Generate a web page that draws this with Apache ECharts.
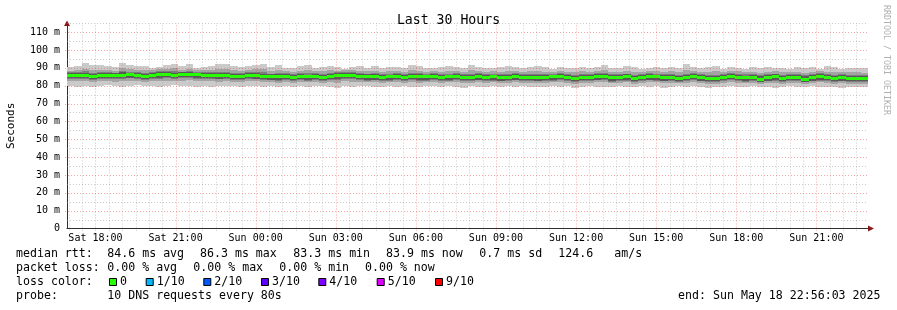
<!DOCTYPE html>
<html><head><meta charset="utf-8">
<script src="https://cdn.jsdelivr.net/npm/echarts@6/dist/echarts.min.js"></script>
<style>html,body{margin:0;padding:0;background:#fff}#c{width:897px;height:310px}</style>
</head><body><div id="c"></div>
<script>
// time in seconds since Sat 00:00
const START = 60963;          // Sat 16:56:03
const END = 168963;           // Sun 22:56:03
const STEP = 1000;

const median = [
85.6,85.9,85.8,85.1,85.6,85.8,85.7,85.9,86.0,85.8,
85.4,85.9,86.0,86.1,85.9,86.2,86.3,86.1,85.7,85.8,
85.5,85.6,85.4,85.3,85.7,85.5,85.2,85.0,84.9,85.1,
84.6,85.0,84.9,85.3,84.7,85.1,85.6,85.9,85.8,85.2,
84.9,85.0,84.6,84.9,85.1,84.8,85.4,85.0,84.9,85.2,
84.7,84.9,85.3,84.8,84.6,85.0,84.8,84.9,84.5,84.8,
85.0,84.6,84.8,84.4,84.7,84.9,85.1,84.6,84.3,84.8,
84.6,85.0,85.4,84.4,84.7,84.9,84.2,84.6,85.0,84.9,
84.5,84.8,84.3,84.6,85.2,84.5,84.0,84.2,84.7,85.3,
84.8,84.4,84.6,83.6,84.5,84.9,84.3,84.7,84.6,83.3,
84.5,85.0,84.6,84.1,84.4,84.3,84.2,83.9];
const ping10 = [
90.5,91.0,92.8,91.5,91.6,90.9,90.4,92.9,91.8,91.2,
91.3,90.1,90.7,91.5,92.4,90.8,91.9,89.9,90.2,91.1,
92.3,92.1,91.2,90.6,90.8,91.7,92.0,90.3,91.4,89.8,
90.0,90.9,91.5,89.7,90.6,91.0,90.2,89.6,90.7,90.9,
90.1,91.2,89.8,90.5,90.6,89.9,91.6,90.8,90.1,89.7,
90.4,91.3,90.2,90.0,91.8,90.6,90.0,89.9,90.3,91.0,
90.6,89.8,90.5,91.1,90.2,89.6,90.4,90.0,89.8,90.7,
89.9,90.3,91.5,90.1,89.7,90.9,90.2,89.5,90.1,90.4,
89.8,90.6,89.7,92.0,90.5,89.9,90.2,90.8,89.6,90.3,
90.0,89.5,90.4,89.9,90.6,89.7,90.1,89.4,90.7,89.8,
90.2,89.6,91.0,90.3,89.5,90.1,89.7,89.9];
const ping1 = [
79.8,79.5,80.1,79.2,79.9,80.2,79.6,79.4,80.0,80.3,
79.6,80.1,79.4,79.8,80.2,79.7,80.0,79.3,79.9,79.5,
80.1,79.6,79.9,79.4,79.7,80.0,79.3,79.8,79.1,79.6,
79.4,79.9,79.2,79.7,80.1,79.5,78.8,79.8,79.3,79.6,
79.9,79.4,79.0,79.7,79.2,79.8,79.5,79.1,79.6,80.0,
79.3,79.7,79.4,78.9,79.8,79.5,79.2,79.6,79.0,79.7,
79.4,79.9,79.2,79.5,79.1,79.8,79.3,79.6,78.9,79.4,
79.7,79.2,79.5,79.0,79.8,79.4,79.1,79.6,79.3,79.7,
78.9,79.4,79.6,79.1,79.7,79.3,78.8,79.5,79.2,79.8,
79.4,79.0,79.6,79.2,79.5,78.9,79.3,79.7,79.1,79.4,
79.6,79.0,79.5,79.2,78.8,79.4,79.3,79.1];
const ping9 = [
88.4,88.9,89.6,88.7,88.9,89.0,88.5,89.8,89.2,88.8,
88.6,88.8,89.3,89.5,89.8,88.9,89.6,88.7,88.6,89.0,
89.4,89.2,88.8,88.3,88.9,89.1,89.3,88.2,88.6,88.1,
87.9,88.3,88.7,88.0,88.2,88.6,88.4,88.9,88.7,88.5,
88.0,88.4,87.8,88.2,88.5,87.9,88.8,88.3,87.9,88.1,
87.8,88.5,88.3,87.9,88.6,88.2,87.8,88.0,87.7,88.4,
88.1,87.7,88.2,88.3,87.9,87.8,88.4,87.9,87.5,88.2,
87.8,88.3,88.7,87.6,87.9,88.4,87.5,87.8,88.2,88.0,
87.6,88.1,87.5,88.6,88.3,87.7,87.4,88.0,87.8,88.5,
88.0,87.6,87.9,87.3,87.8,88.1,87.5,87.9,87.8,87.2,
87.7,88.2,87.9,87.4,87.5,87.6,87.4,87.3];
const ping2 = [
82.4,82.7,82.5,82.0,82.6,82.8,82.3,82.6,82.9,82.5,
82.2,82.8,82.6,82.9,82.7,82.8,83.0,82.5,82.4,82.6,
82.3,82.5,82.1,82.0,82.6,82.4,82.0,81.9,81.6,82.0,
81.7,82.1,81.8,82.2,81.6,82.0,81.5,82.4,82.3,81.9,
81.8,81.9,81.4,81.8,81.9,81.6,82.2,81.7,81.8,82.1,
81.6,81.8,82.0,81.5,81.6,81.9,81.6,81.8,81.3,81.7,
81.9,81.5,81.7,81.4,81.5,81.8,81.9,81.6,81.2,81.7,
81.5,81.8,82.1,81.3,81.7,81.8,81.2,81.5,81.9,81.8,
81.3,81.7,81.4,81.3,82.0,81.5,81.0,81.2,81.6,82.0,
81.7,81.3,81.6,80.9,81.4,81.6,81.2,81.6,81.5,80.8,
81.4,81.8,81.5,81.0,81.3,81.2,81.1,80.9];
const ping8 = [
87.4,87.8,88.0,87.2,87.6,87.7,87.3,88.1,87.9,87.7,
87.3,87.6,88.0,88.2,88.1,87.9,88.3,87.8,87.5,87.7,
87.6,87.8,87.3,87.1,87.5,87.6,87.4,86.8,86.9,87.0,
86.5,86.9,87.0,87.2,86.6,87.1,87.5,87.7,87.6,87.0,
86.8,86.9,86.4,86.8,87.0,86.7,87.3,86.9,86.7,87.0,
86.6,86.8,87.2,86.7,86.6,86.9,86.6,86.8,86.3,86.7,
86.9,86.5,86.7,86.4,86.6,86.7,87.0,86.5,86.2,86.7,
86.5,86.9,87.3,86.3,86.6,86.8,86.1,86.5,86.9,86.8,
86.4,86.7,86.2,86.6,87.1,86.4,85.9,86.1,86.6,87.2,
86.7,86.3,86.5,85.8,86.4,86.8,86.2,86.6,86.5,85.9,
86.4,86.9,86.5,86.0,86.3,86.2,86.1,85.8];
const ping3 = [
83.6,83.9,83.7,83.2,83.8,83.9,83.6,83.8,84.1,83.7,
83.4,84.0,83.9,84.1,83.9,84.2,84.3,83.9,83.6,83.8,
83.5,83.7,83.3,83.2,83.8,83.5,83.1,83.0,82.8,83.1,
82.7,83.1,82.9,83.3,82.6,83.0,83.2,83.8,83.7,83.1,
82.9,83.0,82.5,82.9,83.1,82.7,83.4,82.9,82.9,83.2,
82.6,82.9,83.3,82.7,82.5,83.0,82.7,82.9,82.4,82.8,
83.0,82.6,82.8,82.4,82.6,82.9,83.1,82.6,82.2,82.8,
82.6,83.0,83.3,82.3,82.7,82.9,82.1,82.6,83.0,82.9,
82.4,82.8,82.3,82.4,83.1,82.5,81.9,82.2,82.7,83.2,
82.8,82.3,82.6,81.8,82.5,82.9,82.3,82.7,82.6,81.9,
82.4,82.9,82.6,82.0,82.4,82.3,82.1,81.9];
const ping7 = [
86.9,87.3,87.2,86.6,86.9,87.1,86.9,87.4,87.3,87.0,
86.8,87.1,87.4,87.5,87.3,87.6,87.7,87.3,86.9,87.1,
87.0,87.0,86.7,86.6,87.0,86.9,86.6,86.3,86.3,86.5,
86.0,86.4,86.2,86.6,86.1,86.5,86.9,87.2,87.0,86.5,
86.3,86.3,86.0,86.2,86.5,86.1,86.8,86.3,86.2,86.5,
86.1,86.2,86.6,86.2,86.0,86.3,86.1,86.2,85.9,86.1,
86.3,86.0,86.1,85.8,86.1,86.2,86.5,85.9,85.7,86.1,
86.0,86.3,86.7,85.8,86.0,86.3,85.6,85.9,86.4,86.2,
85.9,86.1,85.7,85.9,86.5,85.9,85.4,85.6,86.0,86.6,
86.2,85.7,86.0,85.3,85.8,86.3,85.6,86.1,85.9,85.4,
85.9,86.3,86.0,85.5,85.8,85.6,85.6,85.3];
const ping4 = [
84.1,84.4,84.3,83.6,84.2,84.3,84.1,84.3,84.5,84.2,
83.9,84.4,84.5,84.6,84.4,84.7,84.8,84.5,84.1,84.3,
84.0,84.1,83.8,83.7,84.2,83.9,83.6,83.4,83.3,83.5,
83.1,83.5,83.3,83.7,83.1,83.5,84.0,84.3,84.2,83.6,
83.3,83.4,83.0,83.3,83.5,83.2,83.8,83.4,83.3,83.6,
83.1,83.3,83.7,83.2,83.0,83.4,83.2,83.3,82.9,83.2,
83.4,83.0,83.2,82.8,83.1,83.3,83.5,83.0,82.7,83.2,
83.0,83.4,83.8,82.8,83.1,83.3,82.6,83.0,83.4,83.3,
82.9,83.2,82.7,83.0,83.6,82.9,82.4,82.6,83.1,83.7,
83.2,82.8,83.0,82.3,82.9,83.3,82.7,83.1,83.0,82.0,
82.9,83.4,83.0,82.5,82.8,82.7,82.6,82.4];
const ping5 = [
85.0,85.3,85.2,84.5,85.0,85.2,85.0,85.2,85.4,85.1,
84.8,85.2,85.4,85.5,85.3,85.6,85.7,85.4,85.0,85.2,
84.9,85.0,84.7,84.6,85.0,84.8,84.5,84.3,84.2,84.4,
84.0,84.4,84.2,84.6,84.0,84.4,84.9,85.2,85.1,84.5,
84.2,84.3,83.9,84.2,84.4,84.1,84.7,84.3,84.2,84.5,
84.0,84.2,84.6,84.1,83.9,84.3,84.1,84.2,83.8,84.1,
84.3,83.9,84.1,83.7,84.0,84.2,84.4,83.9,83.6,84.1,
83.9,84.3,84.7,83.7,84.0,84.2,83.5,83.9,84.3,84.2,
83.8,84.1,83.6,83.9,84.5,83.8,83.3,83.5,84.0,84.6,
84.1,83.7,83.9,83.0,83.8,84.2,83.6,84.0,83.9,82.7,
83.8,84.3,83.9,83.4,83.7,83.6,83.5,83.2];
const ping6 = [
85.9,86.2,86.1,85.4,85.9,86.1,86.0,86.2,86.3,86.1,
85.7,86.2,86.3,86.4,86.2,86.5,86.6,86.4,86.0,86.1,
85.8,85.9,85.7,85.6,86.0,85.8,85.5,85.3,85.2,85.4,
84.9,85.3,85.2,85.6,85.0,85.4,85.9,86.2,86.1,85.5,
85.2,85.3,84.9,85.2,85.4,85.1,85.7,85.3,85.2,85.5,
85.0,85.2,85.6,85.1,84.9,85.3,85.1,85.2,84.8,85.1,
85.3,84.9,85.1,84.7,85.0,85.2,85.4,84.9,84.6,85.1,
84.9,85.3,85.7,84.7,85.0,85.2,84.5,84.9,85.3,85.2,
84.8,85.1,84.6,84.9,85.5,84.8,84.3,84.5,85.0,85.6,
85.1,84.7,84.9,84.0,84.8,85.2,84.6,85.0,84.9,83.7,
84.8,85.3,84.9,84.4,84.7,84.6,84.5,84.2];

const tickTimes  = [64800, 75600, 86400, 97200, 108000, 118800, 129600, 140400, 151200, 162000];
const tickLabels = ['Sat 18:00','Sat 21:00','Sun 00:00','Sun 03:00','Sun 06:00','Sun 09:00','Sun 12:00','Sun 15:00','Sun 18:00','Sun 21:00'];
const YMAX = 115;

const lossNames  = ['0','1/10','2/10','3/10','4/10','5/10','9/10'];
const lossColors = ['#26ff00','#00b8ff','#0059ff','#5e00ff','#7e00ff','#dd00ff','#ff0000'];

const legendLine1 = ['median rtt:','84.6 ms avg','86.3 ms max','83.3 ms min','83.9 ms now','0.7 ms sd','124.6','am/s'];
const legendLine2 = ['packet loss:','0.00 % avg','0.00 % max','0.00 % min','0.00 % now'];
const probeText = ['probe:','10 DNS requests every 80s'];
const endText = 'end: Sun May 18 22:56:03 2025';

// ---- build rows
const rows = median.map((m, i) => {
  const t0 = START + i * STEP;
  return [t0, t0 + STEP, ping1[i], ping2[i], ping3[i], ping4[i], ping5[i], ping6[i], ping7[i], ping8[i], ping9[i], ping10[i], m];
});
// grid lines: minor every 30 min, major every 3h (ticks)
const vGrid = [];
for (let t = Math.ceil(START / 1800) * 1800; t < END; t += 1800) {
  vGrid.push([t, tickTimes.indexOf(t) >= 0 ? 1 : 0]);
}
const hGrid = [];
for (let v = 5; v <= YMAX; v += 5) hGrid.push([v, v % 10 === 0 ? 1 : 0]);

const MONO = '"DejaVu Sans Mono", monospace';
const chart = echarts.init(document.getElementById('c'), null, {renderer: 'canvas'});

const bandColors = ['#cacaca', '#a4a4a4', '#7e7e7e', '#585858', '#323232'];
const MAJOR = 'rgba(240,64,64,0.45)';
const MINOR = 'rgba(143,143,143,0.45)';

const graphics = [];
const FS = 11.6;
function txt(x, y, s, align) {
  graphics.push({type: 'text', x: x, y: y, silent: true,
    style: {text: s, font: FS + 'px ' + MONO, fill: '#000', align: align || 'left', verticalAlign: 'middle'}});
}
const l1x = [16, 107.3, 200, 293.3, 386, 479.3, 558.3, 614.3];
legendLine1.forEach((s, i) => txt(l1x[i], 254.3, s));
const l2x = [16, 107.3, 193.3, 279.3, 365];
legendLine2.forEach((s, i) => txt(l2x[i], 268.3, s));
txt(16, 282.3, 'loss color:');
const sqx = [109, 145.7, 203.3, 261, 318.3, 376.7, 435];
lossNames.forEach((s, i) => {
  graphics.push({type: 'rect', silent: true, shape: {x: sqx[i] + 0.5, y: 278.5, width: 7, height: 7},
    style: {fill: lossColors[i], stroke: '#000', lineWidth: 1}});
  txt(sqx[i] + 11, 282.3, s);
});
txt(16, 296, probeText[0]);
txt(107.3, 296, probeText[1]);
txt(880.5, 296, endText, 'right');
// watermark
graphics.push({type: 'text', x: 886, y: 5, rotation: -Math.PI / 2, silent: true,
  style: {text: 'RRDTOOL / TOBI OETIKER', font: '8.3px ' + MONO, fill: '#b0b0b0', align: 'left', verticalAlign: 'middle'}});
// arrows
graphics.push({type: 'polygon', silent: true, shape: {points: [[64, 26], [67, 20.5], [70, 26]]}, style: {fill: '#8b1a1a'}});
graphics.push({type: 'polygon', silent: true, shape: {points: [[868, 225.5], [874, 228.5], [868, 231.5]]}, style: {fill: '#8b1a1a'}});

chart.setOption({
  backgroundColor: '#ffffff',
  animation: false,
  title: {text: 'Last 30 Hours', left: 'center', top: 9,
    textStyle: {fontFamily: MONO, fontSize: 13.2, fontWeight: 'normal', color: '#000'}},
  grid: {left: 67, top: 23.2, width: 801, height: 205.3, containLabel: false, outerBoundsMode: 'none'},
  xAxis: {
    type: 'value', min: START, max: END,
    axisLine: {show: true, lineStyle: {color: '#303030', width: 1}},
    axisTick: {show: false},
    splitLine: {show: false},
    axisLabel: {
      customValues: tickTimes,
      margin: 5,
      fontFamily: MONO, fontSize: 10, color: '#000',
      formatter: v => { const k = tickTimes.indexOf(v); return k >= 0 ? tickLabels[k] : ''; }
    }
  },
  yAxis: {
    type: 'value', min: 0, max: YMAX, interval: 5,
    name: 'Seconds', nameLocation: 'middle', nameGap: 50, nameRotate: 90,
    nameTextStyle: {fontFamily: MONO, fontSize: 11, color: '#000'},
    axisLine: {show: true, lineStyle: {color: '#303030', width: 1}},
    axisTick: {show: false},
    splitLine: {show: false},
    axisLabel: {
      margin: 7, fontFamily: MONO, fontSize: 10, color: '#000',
      formatter: v => (v % 10 !== 0 || v > 110) ? '' : (v === 0 ? '0' : v + ' m')
    }
  },
  series: [
    {
      type: 'custom', z: 2, clip: true,
      data: rows,
      encode: {x: [0, 1], y: [2, 11]},
      renderItem: (params, api) => {
        const xa = Math.round(api.coord([api.value(0), 0])[0]);
        const xb = Math.round(api.coord([api.value(1), 0])[0]);
        const children = [];
        for (let b = 0; b < 5; b++) {
          const ylo = Math.round(api.coord([0, api.value(2 + b)])[1]);
          const yhi = Math.round(api.coord([0, api.value(11 - b)])[1]);
          children.push({type: 'rect', shape: {x: xa, y: yhi, width: xb - xa, height: Math.max(1, ylo - yhi)},
            style: {fill: bandColors[b]}});
        }
        const ym = api.coord([0, api.value(12)])[1];
        children.push({type: 'rect', shape: {x: xa, y: Math.round(ym - 1.5), width: xb - xa, height: 3},
          style: {fill: lossColors[0]}});
        return {type: 'group', children: children};
      }
    },
    {
      type: 'custom', z: 3, silent: true,
      data: vGrid,
      encode: {x: 0},
      renderItem: (params, api) => {
        const x = Math.round(api.coord([api.value(0), 0])[0]) + 0.5;
        const y0 = api.coord([START, 0])[1];
        const y1 = api.coord([START, YMAX])[1];
        const major = api.value(1) === 1;
        return {type: 'line', shape: {x1: x, y1: y0 + 2, x2: x, y2: y1},
          style: {stroke: major ? MAJOR : MINOR, lineWidth: 1, lineDash: [1, 2]}};
      }
    },
    {
      type: 'custom', z: 3, silent: true,
      data: hGrid,
      encode: {y: 0},
      renderItem: (params, api) => {
        const y = Math.round(api.coord([START, api.value(0)])[1]) + 0.5;
        const x0 = api.coord([START, 0])[0];
        const x1 = api.coord([END, 0])[0];
        const major = api.value(1) === 1;
        return {type: 'line', shape: {x1: x0 - (major ? 2 : 0), y1: y, x2: x1, y2: y},
          style: {stroke: major ? MAJOR : MINOR, lineWidth: 1, lineDash: [1, 2]}};
      }
    }
  ],
  graphic: graphics
});
</script></body></html>
